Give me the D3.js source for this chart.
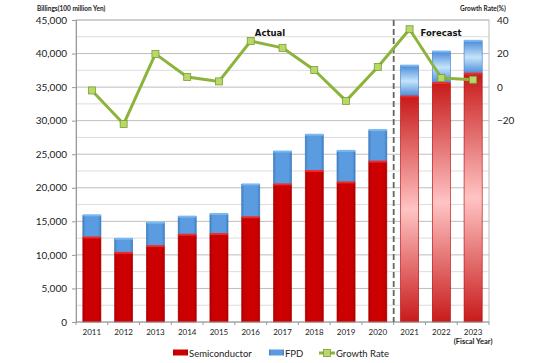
<!DOCTYPE html>
<html>
<head>
<meta charset="utf-8">
<script src="https://cdn.jsdelivr.net/npm/d3@7"></script>
<style>
  body { margin: 0; background: #fff; }
  text { font-family: Lato, "Open Sans", sans-serif; }
</style>
</head>
<body>
<div id="chart"></div>
<script>
const years = ['2011', '2012', '2013', '2014', '2015', '2016', '2017', '2018', '2019', '2020', '2021', '2022', '2023'];
const semiconductor = [12600, 10300, 11300, 13000, 13100, 15600, 20500, 22500, 20800, 23900, 33600, 35600, 37000];
const fpd = [3300, 2100, 3500, 2700, 3000, 4900, 4900, 5400, 4700, 4700, 4600, 4700, 4900];
const growthRate = [-2.0, -22.0, 19.8, 6.0, 3.4, 27.5, 23.4, 10.2, -8.2, 12.0, 34.5, 5.4, 4.4];
const leftTicks = [0, 5000, 10000, 15000, 20000, 25000, 30000, 35000, 40000, 45000];
const rightTicks = [-20, 0, 20, 40];
const forecastFrom = '2021';

const width = 554;
const height = 363;
const margins = { top: 20, bottom: 41, left: 76, right: 65 };

const svg = d3.select('#chart').append('svg')
  .attr('width', width)
  .attr('height', height);

const defs = svg.append('defs');

// actual bars: slight horizontal shading
function hGrad(id, edge, mid) {
  const g = defs.append('linearGradient').attr('id', id)
    .attr('x1', '0%').attr('x2', '100%').attr('y1', '0%').attr('y2', '0%');
  g.append('stop').attr('offset', '0%').attr('stop-color', edge);
  g.append('stop').attr('offset', '15%').attr('stop-color', mid);
  g.append('stop').attr('offset', '85%').attr('stop-color', mid);
  g.append('stop').attr('offset', '100%').attr('stop-color', edge);
}
hGrad('semiActual', '#a80000', '#cc0000');
hGrad('fpdActual', '#3f7fc4', '#5b9be0');

// forecast bars: vertical shading, dark at ends and light in the middle
function vGrad(id, edge, mid) {
  const g = defs.append('linearGradient').attr('id', id)
    .attr('x1', '0%').attr('x2', '0%').attr('y1', '0%').attr('y2', '100%');
  g.append('stop').attr('offset', '0%').attr('stop-color', edge);
  g.append('stop').attr('offset', '50%').attr('stop-color', mid);
  g.append('stop').attr('offset', '100%').attr('stop-color', edge);
}
vGrad('semiForecast', '#c81a1a', '#ffc4c4');
vGrad('fpdForecast', '#4a8ad8', '#c4e4fb');

const plotW = width - margins.left - margins.right;
const plotH = height - margins.top - margins.bottom;

const xScale = d3.scaleBand()
  .domain(years)
  .range([margins.left, margins.left + plotW])
  .paddingInner(0.43)
  .paddingOuter(0.215);

const yScale = d3.scaleLinear()
  .domain([0, 45000])
  .range([margins.top + plotH, margins.top]);

const rScale = d3.scaleLinear()
  .domain([-140, 40])
  .range([margins.top + plotH, margins.top]);

// grid lines
const gridVals = d3.range(2500, 45001, 2500);
svg.append('g').selectAll('line')
  .data(gridVals)
  .join('line')
  .attr('x1', margins.left)
  .attr('x2', margins.left + plotW)
  .attr('y1', (d) => yScale(d))
  .attr('y2', (d) => yScale(d))
  .style('stroke', (d) => (d % 5000 === 0 ? '#bdbdbd' : '#dcdcdc'))
  .style('stroke-width', 1);

// frame
svg.append('rect')
  .attr('x', margins.left)
  .attr('y', margins.top)
  .attr('width', plotW)
  .attr('height', plotH)
  .style('fill', 'none')
  .style('stroke', '#bdbdbd');

const isForecast = (y) => +y >= +forecastFrom;

// bars
const barGroup = svg.append('g');
years.forEach((y, i) => {
  const s = semiconductor[i];
  const f = fpd[i];
  const fc = isForecast(y);
  barGroup.append('rect')
    .attr('x', xScale(y))
    .attr('y', yScale(s))
    .attr('width', xScale.bandwidth())
    .attr('height', yScale(0) - yScale(s))
    .style('fill', fc ? 'url(#semiForecast)' : 'url(#semiActual)')
    .style('stroke', '#b30000')
    .style('stroke-width', 0.6);
  barGroup.append('rect')
    .attr('x', xScale(y))
    .attr('y', yScale(s + f))
    .attr('width', xScale.bandwidth())
    .attr('height', yScale(s) - yScale(s + f))
    .style('fill', fc ? 'url(#fpdForecast)' : 'url(#fpdActual)')
    .style('stroke', '#3c78c0')
    .style('stroke-width', 0.6);
  // top highlight edge of each segment
  barGroup.append('rect')
    .attr('x', xScale(y))
    .attr('y', yScale(s) - 1)
    .attr('width', xScale.bandwidth())
    .attr('height', 2)
    .style('fill', '#ee2a2a');
  barGroup.append('rect')
    .attr('x', xScale(y))
    .attr('y', yScale(s + f) - 1)
    .attr('width', xScale.bandwidth())
    .attr('height', 2)
    .style('fill', '#7ab8f0');
});

// left axis
const leftAxis = d3.axisLeft(yScale)
  .tickValues(leftTicks)
  .tickSize(4)
  .tickFormat(d3.format(','));

const lAxis = svg.append('g')
  .attr('transform', `translate(${margins.left},0)`)
  .call(leftAxis);
lAxis.select('.domain').style('stroke', '#999');
lAxis.selectAll('.tick line').style('stroke', '#999');
lAxis.selectAll('.tick text')
  .attr('x', -9)
  .style('font-size', '10px')
  .style('fill', '#222');

// right axis
const rightAxis = d3.axisRight(rScale)
  .tickValues(rightTicks)
  .tickSize(0);
const rAxis = svg.append('g')
  .attr('transform', `translate(${margins.left + plotW},0)`)
  .call(rightAxis);
rAxis.select('.domain').remove();
rAxis.selectAll('.tick text')
  .attr('x', 8)
  .style('font-size', '10px')
  .style('fill', '#222');

// bottom axis with ticks between categories
const bottom = margins.top + plotH;
svg.append('line')
  .attr('x1', margins.left)
  .attr('x2', margins.left + plotW)
  .attr('y1', bottom)
  .attr('y2', bottom)
  .style('stroke', '#999');
const step = xScale.step();
svg.append('g').selectAll('line')
  .data(d3.range(0, years.length + 1))
  .join('line')
  .attr('x1', (d) => margins.left + d * plotW / years.length)
  .attr('x2', (d) => margins.left + d * plotW / years.length)
  .attr('y1', bottom)
  .attr('y2', bottom + 3)
  .style('stroke', '#999');

svg.append('g').selectAll('text')
  .data(years)
  .join('text')
  .attr('x', (d) => xScale(d) + xScale.bandwidth() / 2)
  .attr('y', bottom + 13)
  .style('text-anchor', 'middle')
  .style('font-size', '8px')
  .style('fill', '#222')
  .text((d) => d);

svg.append('text')
  .attr('x', xScale('2023') + xScale.bandwidth() / 2)
  .attr('y', bottom + 22)
  .style('text-anchor', 'middle')
  .style('font-size', '7.5px')
  .style('font-weight', 'bold')
  .style('fill', '#222')
  .text('(Fiscal Year)');

// forecast divider
const divX = xScale(forecastFrom) - (step - xScale.bandwidth()) / 2;
svg.append('line')
  .attr('x1', divX)
  .attr('x2', divX)
  .attr('y1', margins.top)
  .attr('y2', bottom)
  .style('stroke', '#666')
  .style('stroke-width', 1.8)
  .style('stroke-dasharray', '6,3');

// growth rate line
const line = d3.line()
  .x((d, i) => xScale(years[i]) + xScale.bandwidth() / 2)
  .y((d) => rScale(d));

svg.append('path')
  .datum(growthRate)
  .attr('d', line)
  .style('fill', 'none')
  .style('stroke', '#8cb43c')
  .style('stroke-width', 3)
  .style('stroke-linejoin', 'round');

svg.append('g').selectAll('rect')
  .data(growthRate)
  .join('rect')
  .attr('x', (d, i) => xScale(years[i]) + xScale.bandwidth() / 2 - 3.5)
  .attr('y', (d) => rScale(d) - 3.5)
  .attr('width', 7)
  .attr('height', 7)
  .style('fill', '#b8d86a')
  .style('stroke', '#7a9e30')
  .style('stroke-width', 0.8);

// annotations
svg.append('text')
  .attr('x', 270)
  .attr('y', 36)
  .style('text-anchor', 'middle')
  .style('font-family', '"DejaVu Sans", sans-serif')
  .style('font-size', '8.5px')
  .style('font-weight', 'bold')
  .style('fill', '#111')
  .text('Actual');

svg.append('text')
  .attr('x', 441)
  .attr('y', 36)
  .style('text-anchor', 'middle')
  .style('font-family', '"DejaVu Sans", sans-serif')
  .style('font-size', '8.5px')
  .style('font-weight', 'bold')
  .style('fill', '#111')
  .text('Forecast');

svg.append('text')
  .attr('x', 37)
  .attr('y', 11)
  .style('font-size', '6.5px')
  .style('font-weight', 'bold')
  .style('fill', '#222')
  .text('Billings(100 million Yen)');

svg.append('text')
  .attr('x', 460)
  .attr('y', 11)
  .style('font-size', '6.5px')
  .style('font-weight', 'bold')
  .style('fill', '#222')
  .text('Growth Rate(%)');

// legend
const legend = svg.append('g').attr('transform', `translate(0,${height - 10})`);
legend.append('rect')
  .attr('x', 173).attr('y', -3.5).attr('width', 15).attr('height', 6)
  .style('fill', 'url(#semiActual)');
legend.append('text')
  .attr('x', 189).attr('y', 3.5)
  .style('font-size', '9.5px').style('fill', '#222')
  .text('Semiconductor');
legend.append('rect')
  .attr('x', 269).attr('y', -3.5).attr('width', 15).attr('height', 6)
  .style('fill', 'url(#fpdActual)');
legend.append('text')
  .attr('x', 285).attr('y', 3.5)
  .style('font-size', '9.5px').style('fill', '#222')
  .text('FPD');
legend.append('line')
  .attr('x1', 319).attr('x2', 335).attr('y1', 0).attr('y2', 0)
  .style('stroke', '#8cb43c').style('stroke-width', 3);
legend.append('rect')
  .attr('x', 323.5).attr('y', -3.5).attr('width', 7).attr('height', 7)
  .style('fill', '#b8d86a').style('stroke', '#7a9e30').style('stroke-width', 0.8);
legend.append('text')
  .attr('x', 336).attr('y', 3.5)
  .style('font-size', '9.5px').style('fill', '#222')
  .text('Growth Rate');
</script>
</body>
</html>
